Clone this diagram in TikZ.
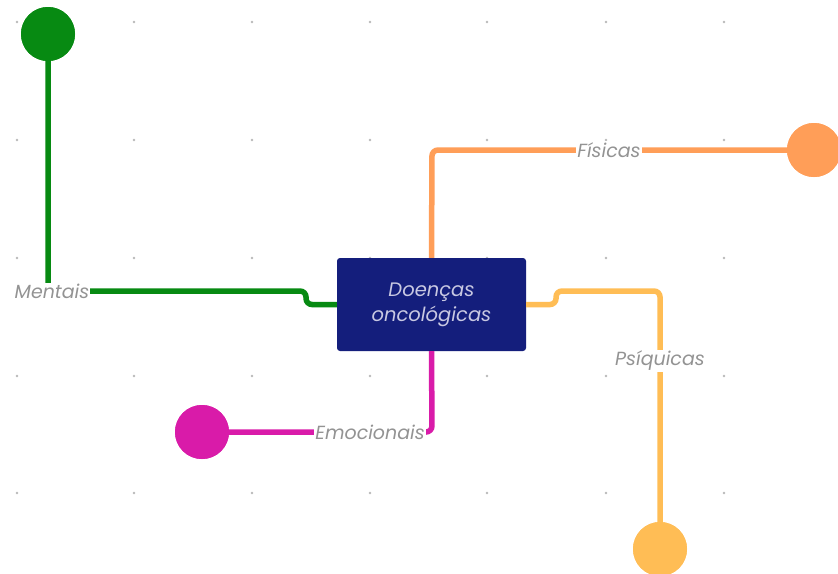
\documentclass[tikz,border=0pt]{standalone}
\usepackage{fontspec}
\setmainfont{Poppins}
\begin{document}
\begin{tikzpicture}[x=1pt,y=-1pt,
  conn/.style={line width=5.5pt,rounded corners=6pt},
  lbl/.style={fill=white,inner sep=1pt,text=gray!85,font=\fontsize{19}{23}\selectfont\itshape},
  ball/.style={circle,inner sep=0pt,minimum size=54pt}]
\definecolor{navy}{HTML}{141E7C}
\definecolor{cgreen}{HTML}{078A12}
\definecolor{corange}{HTML}{FF9E58}
\definecolor{cyellow}{HTML}{FFBD55}
\definecolor{cmag}{HTML}{D91BA9}
\definecolor{boxtext}{HTML}{C8C8E2}
\useasboundingbox (0,0) rectangle (838,573);
\fill[white] (0,0) rectangle (838,573);
\foreach \x in {17,134,252,370,487,606,724}
  \foreach \y in {22,140,258,376,493}
    \fill[gray!55] (\x,\y) circle (1.3pt);
\node[ball,fill=cgreen] (m) at (48,34) {};
\node[ball,fill=corange] (f) at (814,150) {};
\node[ball,fill=cyellow] (p) at (660,549) {};
\node[ball,fill=cmag] (e) at (202,432) {};
\node[fill=navy,rounded corners=3pt,minimum width=189pt,minimum height=93pt,
  align=center,text=boxtext,font=\fontsize{19.5}{25}\selectfont\itshape] (c) at (431.5,304.5)
  {Doenças\\oncológicas};
\draw[conn,cgreen] (m.center) -- (48,291) -- (306,291) -- (306,304.5) -- (c.west);
\node[lbl] at (52,291) {Mentais};
\draw[conn,corange] (c.north) -- (432,150) -- (f.center);
\node[lbl] at (609,150) {Físicas};
\draw[conn,cyellow] (c.east) -- (556,304.5) -- (556,291) -- (660,291) -- (p.center);
\node[lbl] at (660,361) {Psíquicas};
\draw[conn,cmag] (c.south) -- (432,432) -- (e.center);
\node[lbl] at (370,432) {Emocionais};
\node[ball,fill=cgreen] at (m) {};
\node[ball,fill=corange] at (f) {};
\node[ball,fill=cyellow] at (p) {};
\node[ball,fill=cmag] at (e) {};
\end{tikzpicture}
\end{document}
